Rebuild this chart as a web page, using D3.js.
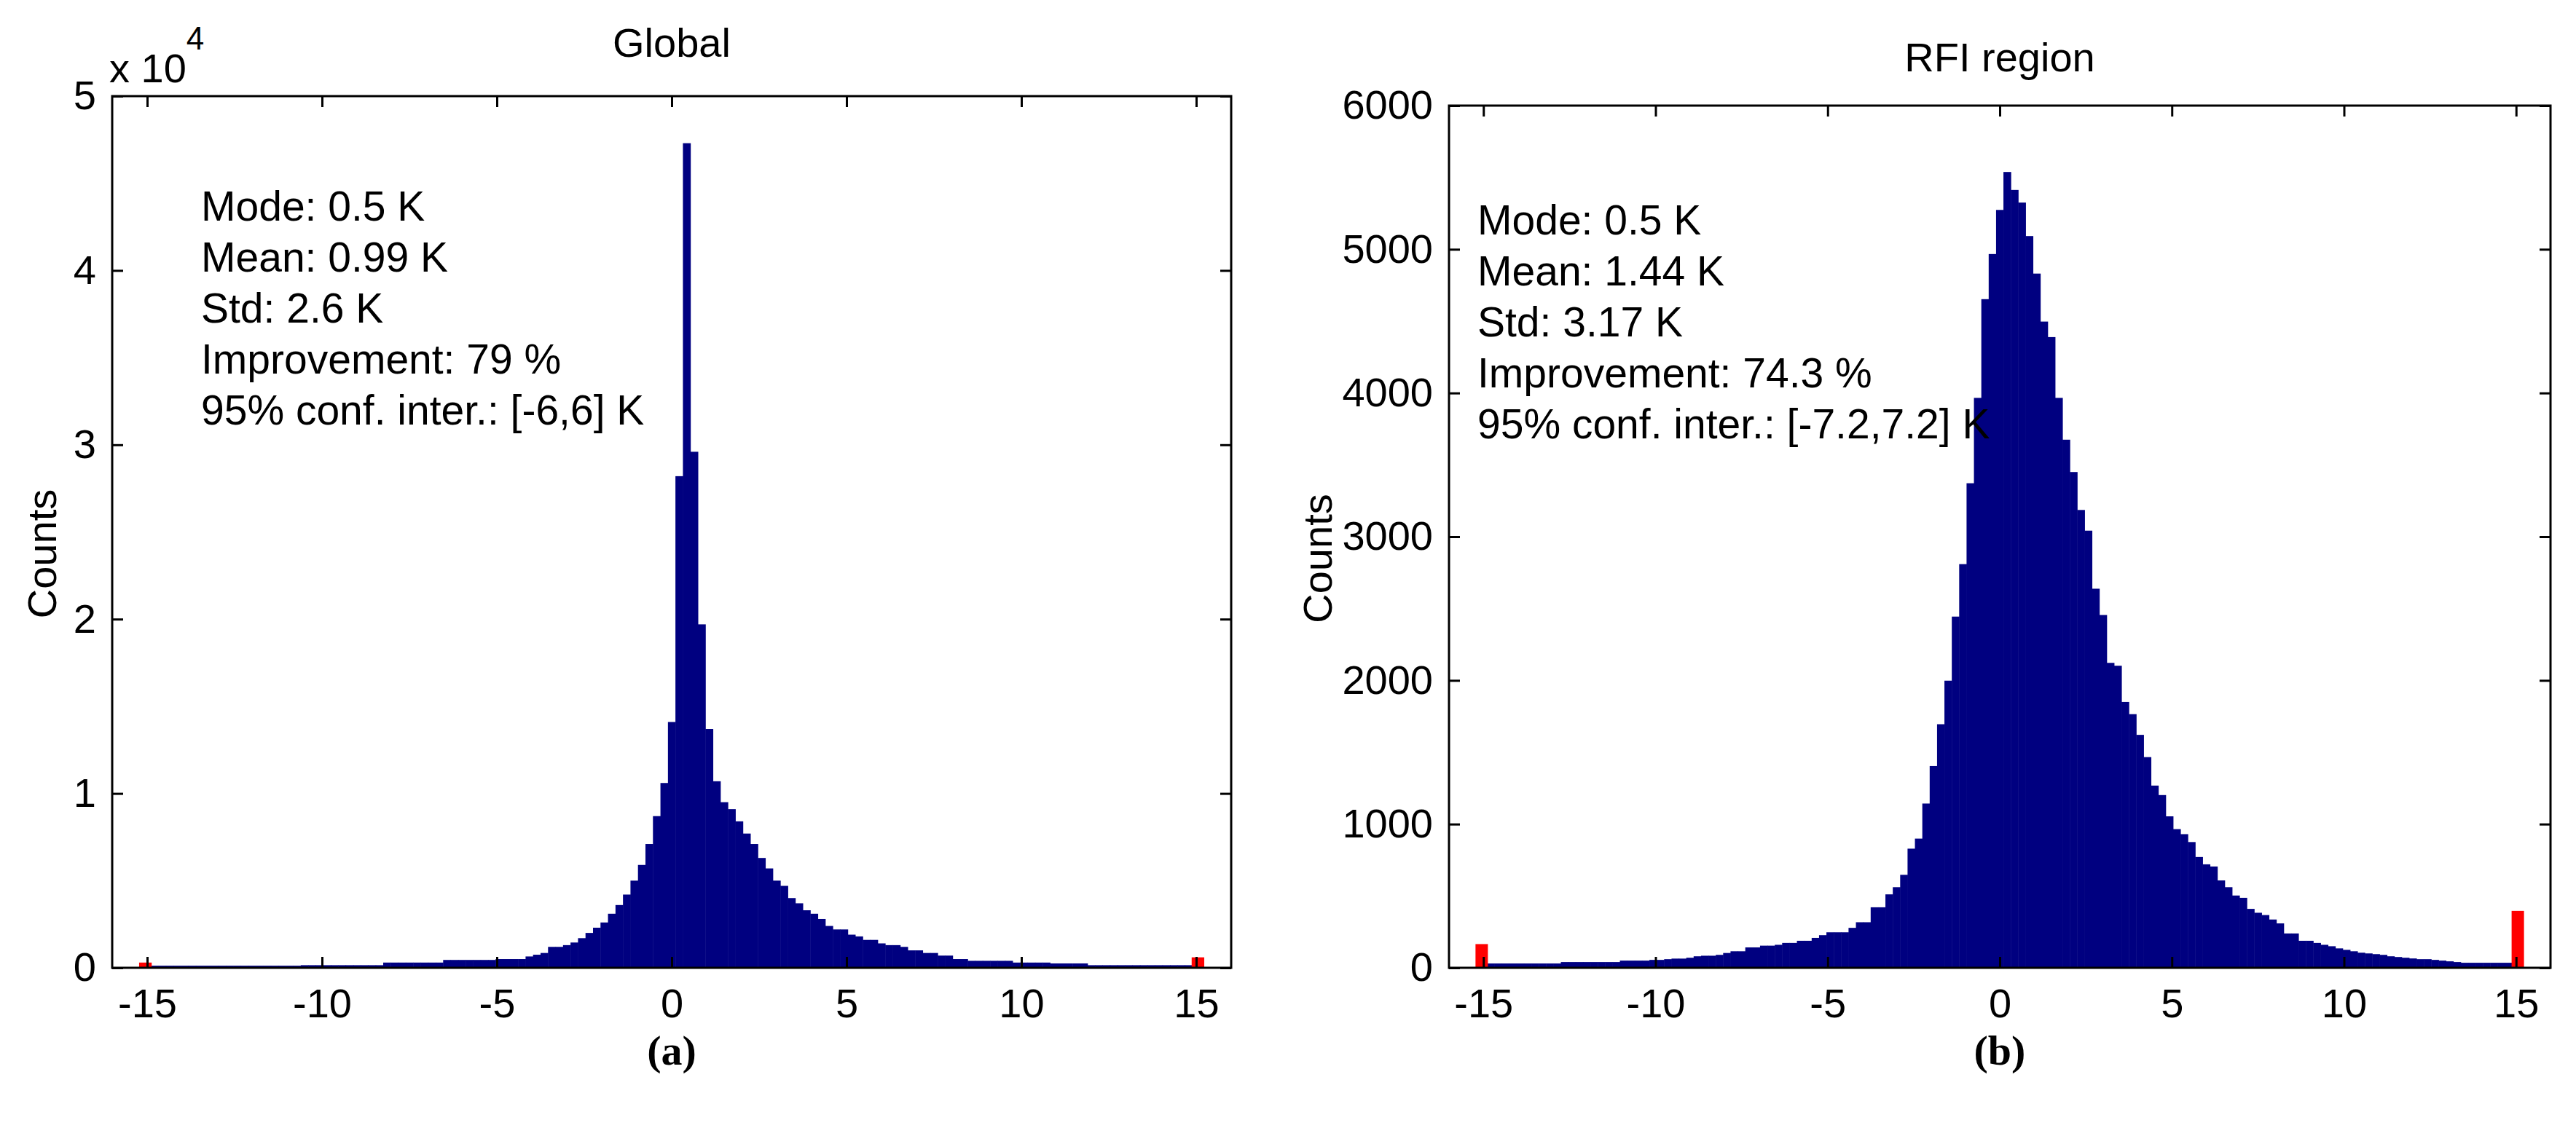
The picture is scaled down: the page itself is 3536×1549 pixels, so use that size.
<!DOCTYPE html>
<html><head><meta charset="utf-8">
<script src="https://cdn.jsdelivr.net/npm/d3@7"></script>
<style>body{margin:0;background:#fff}svg{display:block}</style>
</head><body>
<svg id="c" width="3536" height="1549"></svg>
<script>
// bin centers: -15 .. 15, 141 bins (first and last bins = outliers, red)
const binCount = 141;
const xTicks = [-15, -10, -5, 0, 5, 10, 15];
const globalTicks = [0, 1, 2, 3, 4, 5];
const rfiTicks = [0, 1000, 2000, 3000, 4000, 5000, 6000];
// Global counts (x 10^4)
const globalCounts = [0.03,
0.012,0.012,0.012,0.012,0.012,0.012,0.012,0.012,0.012,0.012,0.012,0.012,0.012,0.012,0.012,0.012,0.012,0.012,0.012,0.012,
0.015,0.015,0.015,0.015,0.015,0.015,0.015,0.015,0.015,0.015,0.015,
0.03,0.03,0.03,0.03,0.03,0.03,0.03,0.03,
0.045,0.045,0.045,0.045,0.045,0.045,0.045,
0.05,0.05,0.05,0.05,0.065,0.075,
0.085,0.12,0.12,0.13,0.145,0.17,0.20,0.23,0.26,0.31,0.36,0.42,0.50,0.59,0.71,0.87,1.06,1.41,2.82,4.73,
2.96,1.97,1.37,1.07,0.95,0.91,0.84,0.77,0.71,0.63,0.57,0.50,0.47,0.40,0.37,0.33,0.31,0.28,0.24,0.22,0.22,0.19,0.18,0.16,0.16,0.14,0.13,0.13,0.12,0.10,0.10,0.085,0.085,0.07,0.07,0.05,0.05,
0.04,0.04,0.04,0.04,0.04,0.04,
0.03,0.03,0.03,0.03,0.03,
0.025,0.025,0.025,0.025,0.025,
0.015,0.015,0.015,0.015,0.015,0.015,0.015,0.015,0.015,0.015,0.015,0.015,0.015,0.015,
0.06];
// RFI region counts
const rfiCounts = [165,
30,30,30,30,30,30,30,30,30,30,
40,40,40,40,40,40,40,40,
50,50,50,50,55,55,60,
64,64,70,80,84,84,90,103,115,115,142,142,154,154,160,173,173,188,188,208,227,247,247,247,278,317,317,421,421,511,561,647,829,899,1143,1404,1695,1998,2444,2809,3372,3966,4653,4967,5274,5538,
5413,5325,5092,4831,4497,4389,3966,3675,3450,3186,3042,2638,2455,2122,2102,1850,1765,1621,1466,1268,1202,1054,965,930,875,771,720,705,608,561,503,487,410,383,367,336,309,239,239,188,188,173,
160,150,135,125,115,105,100,95,90,80,75,70,65,60,60,55,50,45,40,
35,35,35,35,35,35,35,
396];
const centers = d3.range(binCount).map(i => -15 + i * 30 / (binCount - 1));

const SANS = '"Liberation Sans",Arial,sans-serif';
const SERIF = '"Liberation Serif","DejaVu Serif",serif';
const svg = d3.select("#c");
const panels = [
  {title: "Global", tag: "(a)", counts: globalCounts, yMax: 5, yTicks: globalTicks,
   x0: 154, x1: 1690, y0: 132, y1: 1329, titleY: 78, lblX: 57,
   stats: ["Mode: 0.5 K", "Mean: 0.99 K", "Std: 2.6 K", "Improvement: 79 %", "95% conf. inter.: [-6,6] K"],
   sx: 276, sy: 303, exp: true},
  {title: "RFI region", tag: "(b)", counts: rfiCounts, yMax: 6000, yTicks: rfiTicks,
   x0: 1989, x1: 3501, y0: 145, y1: 1329, titleY: 98, lblX: 1808,
   stats: ["Mode: 0.5 K", "Mean: 1.44 K", "Std: 3.17 K", "Improvement: 74.3 %", "95% conf. inter.: [-7.2,7.2] K"],
   sx: 2028, sy: 322, exp: false}
];
const FS = 56;
panels.forEach(p => {
  const x = d3.scaleLinear().domain([-16, 16]).range([p.x0, p.x1]);
  const y = d3.scaleLinear().domain([0, p.yMax]).range([p.y1, p.y0]);
  const g = svg.append("g").style("font-family", SANS);
  const bw = 30 / (binCount - 1);
  const data = p.counts.map((v, i) => ({c: centers[i], v, out: i === 0 || i === binCount - 1}));
  g.selectAll("rect.b").data(data.filter(d => !d.out)).join("rect")
    .attr("x", d => x(d.c - bw / 2)).attr("width", d => x(d.c + bw / 2) - x(d.c - bw / 2) + 0.5)
    .attr("y", d => y(d.v)).attr("height", d => y(0) - y(d.v)).attr("fill", "#000080");
  const rw = 0.36;
  g.selectAll("rect.r").data(data.filter(d => d.out)).join("rect")
    .attr("x", d => x(d.c + (d.c > 0 ? 0.05 : -0.05) - rw / 2)).attr("width", x(rw) - x(0))
    .attr("y", d => y(d.v)).attr("height", d => y(0) - y(d.v)).attr("fill", "#ff0000");
  const fmt = d => String(d);
  const ax = (sel) => sel.call(s => s.select(".domain").remove())
    .selectAll("line").attr("stroke", "#000").attr("stroke-width", 3);
  g.append("g").attr("transform", `translate(0,${p.y1})`)
    .call(d3.axisBottom(x).tickValues(xTicks).tickSize(-15).tickPadding(28).tickFormat(fmt)).call(ax);
  g.append("g").attr("transform", `translate(0,${p.y0})`)
    .call(d3.axisTop(x).tickValues(xTicks).tickSize(-15).tickFormat("")).call(ax);
  g.append("g").attr("transform", `translate(${p.x0},0)`)
    .call(d3.axisLeft(y).tickValues(p.yTicks).tickSize(-15).tickPadding(22).tickFormat(fmt)).call(ax);
  g.append("g").attr("transform", `translate(${p.x1},0)`)
    .call(d3.axisRight(y).tickValues(p.yTicks).tickSize(-15).tickFormat("")).call(ax);
  g.selectAll(".tick text").attr("font-size", FS).attr("fill", "#000").style("font-family", SANS);
  g.append("rect").attr("x", p.x0).attr("y", p.y0).attr("width", p.x1 - p.x0).attr("height", p.y1 - p.y0)
    .attr("fill", "none").attr("stroke", "#000").attr("stroke-width", 3);
  g.append("text").attr("x", (p.x0 + p.x1) / 2).attr("y", p.titleY).attr("text-anchor", "middle")
    .attr("font-size", FS).text(p.title);
  g.append("text").attr("transform", `translate(${p.lblX + 20},${(p.y0 + p.y1) / 2 + 30}) rotate(-90)`)
    .attr("text-anchor", "middle").attr("font-size", FS).text("Counts");
  g.append("text").attr("x", (p.x0 + p.x1) / 2).attr("y", 1462).attr("text-anchor", "middle")
    .attr("font-size", 58).attr("font-weight", "bold").style("font-family", SERIF).text(p.tag);
  p.stats.forEach((s, i) => g.append("text").attr("x", p.sx).attr("y", p.sy + i * 70)
    .attr("font-size", 57).text(s));
  if (p.exp) {
    const t = g.append("text").attr("x", 150).attr("y", 113).attr("font-size", FS);
    t.append("tspan").text("x 10");
    t.append("tspan").attr("dy", -45).attr("font-size", 44).text("4");
  }
});
</script>
</body></html>
